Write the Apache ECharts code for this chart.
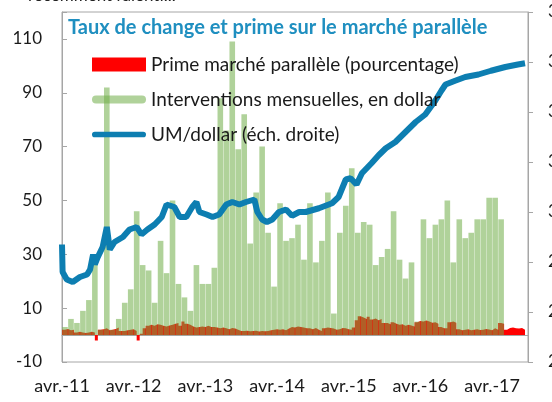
<!DOCTYPE html>
<html>
<head>
<meta charset="utf-8">
<script src="https://cdn.jsdelivr.net/npm/echarts@6/dist/echarts.min.js"></script>
<style>
html, body { margin: 0; padding: 0; background: #fff; }
#chart { width: 552px; height: 402px; }
</style>
</head>
<body>
<div id="chart"></div>
<script>
// x axis is in months counted from avr.-11
var yearLabels = ['avr.-11', 'avr.-12', 'avr.-13', 'avr.-14', 'avr.-15', 'avr.-16', 'avr.-17'];

// monthly interventions (left axis), from avr.-11
var interventions = [3, 6, 4.5, 9, 13, 30, 2, 92, 2, 6, 12, 17,
	46, 26, 24, 12, 35, 23, 50, 19, 14, 9, 26, 19,
	19, 25, 88, 76, 109, 69, 82, 34, 53, 70, 38, 18,
	49, 35, 36, 41, 28, 49, 27, 35, 53, 8, 38, 48,
	62, 38, 42, 41, 26, 29, 32, 46, 28, 21, 27, 5,
	43, 36, 41, 43, 50, 27, 43, 36, 38, 43, 43, 51,
	51, 43];

// parallel market premium in %, two readings per month
var premium = [2.0, 2.3, 1.8, 2.0, 1.0, 1.2, 1.0, 0.8, 1.0, 1.2, 1.0, -2.0,
	2.0, 2.2, 2.5, 1.8, 2.0, 2.3, 2.8, 1.5, 1.5, 1.8, 2.0, 2.2,
	1.5, -2.0, 0.5, 2.5, 3.5, 3.8, 3.5, 4.0, 3.8, 3.5, 3.2, 3.6,
	3.8, 4.2, 4.5, 3.5, 5.0, 4.2, 3.8, 3.2, 2.8, 3.0, 3.2, 3.0,
	3.5, 3.0, 3.0, 2.8, 2.5, 2.8, 2.5, 2.2, 2.6, 2.4, 2.0, 1.5,
	1.5, 1.6, 1.4, 1.5, 1.6, 1.3, 1.5, 1.4, 1.5, 1.8, 2.0, 2.2,
	2.0, 2.2, 1.8, 2.4, 3.0, 2.8, 3.2, 3.0, 2.8, 2.5, 2.5, 2.2,
	2.6, 2.0, 1.5, 2.5, 2.8, 2.6, 2.4, 2.0, 2.2, 2.6, 2.5, 2.2,
	2.0, 2.8, 5.5, 7.0, 6.5, 6.0, 6.8, 5.8, 6.2, 5.5, 6.0, 4.5,
	4.5, 4.0, 4.8, 4.2, 3.8, 4.0, 3.5, 3.8, 3.6, 3.2, 4.8, 5.2,
	5.0, 5.4, 5.0, 4.6, 4.8, 4.2, 3.0, 2.5, 2.5, 4.8, 5.0, 4.6,
	2.2, 1.8, 2.0, 2.2, 1.8, 2.0, 2.2, 1.9, 2.0, 2.3, 2.1, 1.8,
	2.5, 2.0, 4.5, 4.2, 2.0, 2.6, 2.8, 2.5, 2.4, 2.6, 2.0, 2.2];

// UM per dollar (right axis)
var umMonths = [0, 0.1, 0.8, 1.8, 3, 4.2, 4.7, 5.2, 5.5, 6, 6.8, 7.5, 8, 8.8,
	10.2, 11.3, 12.5, 13.3, 14.3, 15.5, 16.7, 17.5, 18.8, 19.7, 20.8, 21.8, 22.5, 23,
	24.2, 25.2, 26.3, 27.5, 28.5, 29.7, 30.8, 32.2, 32.7, 33.5, 34.3, 35.2, 36.3, 37.5,
	38.5, 39.7, 40.8, 43, 45.2, 46.3, 47.5, 48.3, 49.3, 50.2, 51.8, 53, 54.2, 55.8,
	57.5, 59.2, 60.8, 62.5, 63.5, 64.2, 65.8, 67.5, 69.7, 71.8, 74.2, 76.3, 77.5];
var umRate = [287, 276, 273, 272, 274, 275, 277, 283, 279, 282, 286, 294, 285, 288,
	290, 293, 294, 291, 293, 295, 298, 303, 302, 298, 298, 302, 304, 300,
	299, 298, 299, 303, 304, 303, 304, 305, 300, 297, 296, 297, 300, 301,
	298.5, 300, 300, 301.5, 303.5, 306, 313, 313.5, 311, 315.5, 319.5, 322.7, 325.5, 328,
	332, 336, 339, 344.6, 348.5, 351, 352.5, 354, 355, 356.5, 358, 359, 359.5];

var seriesNames = ['Prime marché parallèle (pourcentage)', 'Interventions mensuelles, en dollar', 'UM/dollar (éch. droite)'];

var chart = echarts.init(document.getElementById('chart'));
var grey = '#a6a6a6';
var font = 'Lato';

var barData = interventions.map(function(v, i) { return [i + 0.5, v]; });
var premiumData = premium.map(function(v, i) { return [i * 0.5, v]; });
var umData = umMonths.map(function(m, i) { return [m, umRate[i]]; });

chart.setOption({
	animation: false,
	grid: {
		left: 62, right: 24, top: 12, bottom: 40,
		outerBoundsMode: 'none', containLabel: false,
		show: true, borderColor: grey, borderWidth: 1
	},
	title: {
		text: 'Taux de change et prime sur le marché parallèle',
		left: 68, top: 18, padding: 0,
		textStyle: { fontFamily: font, fontWeight: 'bold', fontSize: 20, color: '#1f8fc0' }
	},
	graphic: [{
		type: 'text', left: 28, top: -13,
		style: { text: 'récemment ralenti...', font: '17px Lato', fill: '#222' }
	}],
	legend: {
		orient: 'vertical', left: 87, top: 50,
		itemWidth: 54, itemHeight: 14, itemGap: 16,
		textStyle: { fontFamily: font, fontSize: 19, color: '#1a1a1a' },
		itemStyle: { borderWidth: 0 },
		data: [
			{ name: seriesNames[0], icon: 'rect' },
			{ name: seriesNames[1], icon: 'path://M4,0H50A4,4 0 0 1 50,8H4A4,4 0 0 1 4,0Z' },
			{ name: seriesNames[2], icon: 'path://M3,0H54A3,3 0 0 1 54,6H3A3,3 0 0 1 3,0Z' }
		]
	},
	xAxis: {
		type: 'value', min: 0, max: 78, interval: 12,
		axisLine: { show: true, lineStyle: { color: grey } },
		axisTick: { show: false },
		splitLine: { show: false },
		axisLabel: {
			fontFamily: font, fontSize: 18, color: '#1a1a1a', margin: 15,
			formatter: function(v) { return yearLabels[v / 12] || ''; }
		}
	},
	yAxis: [{
		type: 'value', min: -10, max: 120, interval: 20,
		axisLine: { show: true, lineStyle: { color: grey } },
		axisTick: { show: true, inside: true, length: 5, lineStyle: { color: grey } },
		splitLine: { show: false },
		axisLabel: {
			fontFamily: font, fontSize: 17, color: '#1a1a1a', margin: 20,
			formatter: function(v) { return v > 110 ? '' : v; }
		}
	}, {
		type: 'value', min: 240, max: 380, interval: 20, position: 'right',
		axisLine: { show: true, lineStyle: { color: grey } },
		axisTick: { show: true, length: 5, lineStyle: { color: grey } },
		splitLine: { show: false },
		axisLabel: { fontFamily: font, fontSize: 17, color: '#1a1a1a', margin: 20 }
	}],
	series: [{
		name: seriesNames[0],
		type: 'line',
		z: 1,
		step: 'end',
		data: premiumData,
		showSymbol: false,
		color: '#ff0000',
		lineStyle: { width: 0 },
		areaStyle: { color: '#ff0000', opacity: 1 }
	}, {
		name: seriesNames[1],
		type: 'bar',
		z: 2,
		data: barData,
		barWidth: 5.6,
		color: 'rgba(112,173,71,0.55)'
	}, {
		name: seriesNames[2],
		type: 'line',
		z: 3,
		yAxisIndex: 1,
		data: umData,
		showSymbol: false,
		color: '#0d7eb1',
		lineStyle: { width: 6, color: '#0d7eb1' }
	}]
});
</script>
</body>
</html>
